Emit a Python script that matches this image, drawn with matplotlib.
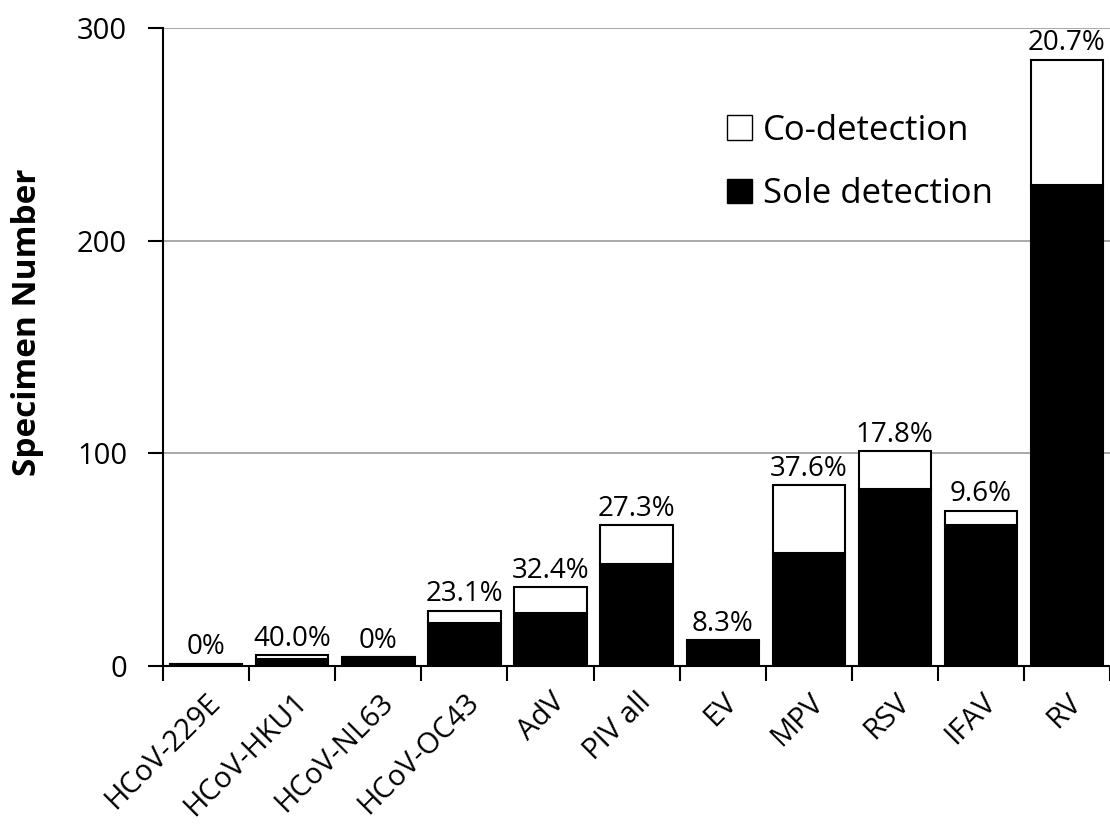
import numpy as np
import matplotlib.pyplot as plt
from matplotlib.patches import Patch

categories = ['HCoV-229E', 'HCoV-HKU1', 'HCoV-NL63', 'HCoV-OC43', 'AdV', 'PIV all',
              'EV', 'MPV', 'RSV', 'IFAV', 'RV']
sole = [1, 3, 4, 20, 25, 48, 11, 53, 83, 66, 226]
co = [0, 2, 0, 6, 12, 18, 1, 32, 18, 7, 59]
pct_labels = ['0%', '40.0%', '0%', '23.1%', '32.4%', '27.3%', '8.3%', '37.6%',
              '17.8%', '9.6%', '20.7%']

plt.rcParams['font.family'] = ['Open Sans', 'DejaVu Sans']

fig = plt.figure(figsize=(11.1, 8.25), dpi=100)
ax = fig.add_axes([0.147, 0.193, 0.853, 0.773])

x = np.arange(len(categories))
totals = np.array(sole) + np.array(co)
ax.bar(x, sole, width=0.84, color='black', edgecolor='black', linewidth=1.5, zorder=3)
ax.bar(x, co, bottom=sole, width=0.84, color='white', edgecolor='black', linewidth=1.5, zorder=3)

for xi, t, lab in zip(x, totals, pct_labels):
    ax.text(xi, t + 1.2, lab, ha='center', va='bottom', fontsize=20)

ax.set_xlim(-0.5, len(categories) - 0.5)
ax.set_ylim(0, 300)
ax.set_yticks([0, 100, 200, 300])
ax.tick_params(axis='y', labelsize=21, length=11, width=1.5, direction='out', pad=15)
ax.yaxis.grid(True, color='#999999', linewidth=1.2, zorder=0)
ax.set_axisbelow(True)

ax.set_xticks(x)
ax.set_xticklabels(categories, rotation=45, ha='right', rotation_mode='anchor', fontsize=21)
ax.tick_params(axis='x', length=0, pad=16)
ax.set_xticks(np.arange(-0.5, len(categories), 1.0), minor=True)
ax.tick_params(axis='x', which='minor', length=11, width=1.5, direction='out')

for side in ['top', 'right']:
    ax.spines[side].set_visible(False)
for side in ['left', 'bottom']:
    ax.spines[side].set_linewidth(1.5)

fig.text(28 / 1110, 1 - 322 / 825, 'Specimen Number', rotation=90, ha='center', va='center',
         fontsize=24, fontweight='bold')

handles = [Patch(facecolor='white', edgecolor='black', linewidth=1),
           Patch(facecolor='black', edgecolor='black')]
ax.legend(handles, ['Co-detection', 'Sole detection'], loc='upper left',
          bbox_to_anchor=(0.563, 0.915), frameon=False, fontsize=25,
          handlelength=0.7, handleheight=0.7, handletextpad=0.33, labelspacing=0.85)

fig.savefig('out.png', dpi=100)
